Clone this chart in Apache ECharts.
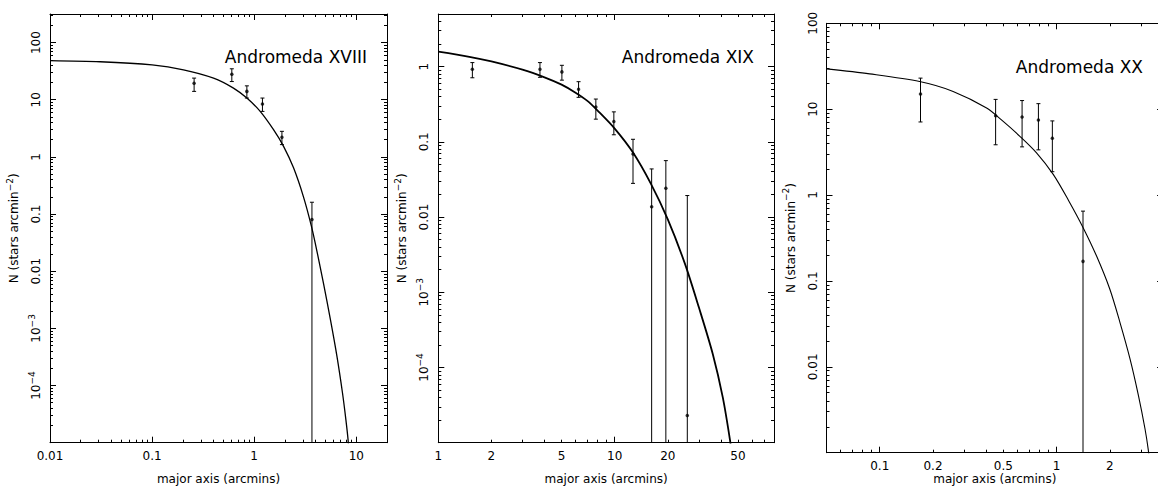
<!DOCTYPE html>
<html><head><meta charset="utf-8">
<script src="https://cdn.jsdelivr.net/npm/echarts@6/dist/echarts.min.js"></script>
<style>html,body{margin:0;padding:0;background:#fff}#c{width:1158px;height:497px}</style>
</head><body><div id="c"></div>
<script>
// ---------- Andromeda XVIII ----------
const a18_curveX = [0.01, 0.031, 0.1, 0.203, 0.40, 0.627, 0.848, 1.145, 1.547, 1.94, 2.43, 3.04, 3.64, 4.15, 4.78, 5.56, 6.47, 7.33, 7.91, 8.31, 8.45];
const a18_curveY = [48.4, 46.2, 40.6, 33.4, 23.9, 16.0, 10.7, 6.25, 2.99, 1.53, 0.643, 0.200, 0.0607, 0.0210, 6.04e-3, 1.48e-3, 3.24e-4, 7.4e-5, 2.54e-5, 1.13e-5, 7e-6];
const a18_pointX = [0.258, 0.604, 0.848, 1.205, 1.87, 3.68];
const a18_pointY = [19.5, 28.0, 14.0, 8.4, 2.2, 0.080];
const a18_errLo  = [14.0, 20.8, 10.7, 6.25, 1.64, 0];
const a18_errHi  = [23.9, 34.8, 17.5, 10.7, 2.8, 0.161];
const a18_xTicks = [0.01, 0.1, 1, 10];
const a18_xTickLabels = ['0.01', '0.1', '1', '10'];
const a18_yTicks = [1e-4, 1e-3, 0.01, 0.1, 1, 10, 100];
const a18_yTickLabels = ['10^-4', '10^-3', '0.01', '0.1', '1', '10', '100'];

// ---------- Andromeda XIX ----------
const a19_curveX = [1, 1.5, 2, 3, 4, 5, 6, 7, 8, 10, 12.7, 16, 20, 25, 30, 36, 41, 45, 46.5];
const a19_curveY = [1.58, 1.35, 1.17, 0.91, 0.72, 0.575, 0.45, 0.35, 0.26, 0.15, 0.072, 0.028, 0.0093, 2.4e-3, 6.3e-4, 1.5e-4, 4e-5, 1.1e-5, 6e-6];
const a19_pointX = [1.56, 3.77, 5.02, 6.24, 7.82, 9.89, 12.7, 16.2, 19.5, 25.8];
const a19_pointY = [0.92, 0.92, 0.85, 0.50, 0.29, 0.186, 0.069, 0.0137, 0.0242, 2.3e-5];
const a19_errLo  = [0.71, 0.72, 0.66, 0.39, 0.20, 0.124, 0.028, 0, 0, 0];
const a19_errHi  = [1.13, 1.13, 1.04, 0.63, 0.37, 0.25, 0.108, 0.0436, 0.0562, 0.0193];
const a19_xTicks = [1, 2, 5, 10, 20, 50];
const a19_xTickLabels = ['1', '2', '5', '10', '20', '50'];
const a19_yTicks = [1e-4, 1e-3, 0.01, 0.1, 1];
const a19_yTickLabels = ['10^-4', '10^-3', '0.01', '0.1', '1'];

// ---------- Andromeda XX ----------
const a20_curveX = [0.05, 0.0877, 0.168, 0.26, 0.402, 0.499, 0.62, 0.77, 0.957, 1.17, 1.41, 1.68, 2.0, 2.28, 2.6, 2.9, 3.16, 3.3, 3.36];
const a20_curveY = [29.5, 25.8, 21.0, 16.1, 10.3, 7.2, 4.83, 3.1, 1.74, 0.86, 0.42, 0.196, 0.08, 0.033, 0.0124, 4.66e-3, 1.9e-3, 1.07e-3, 7.5e-4];
const a20_pointX = [0.17, 0.452, 0.638, 0.789, 0.946, 1.41];
const a20_pointY = [15.0, 8.4, 8.1, 7.5, 4.6, 0.169];
const a20_errLo  = [7.1, 3.85, 3.64, 3.36, 1.87, 0];
const a20_errHi  = [23.0, 13.0, 12.6, 11.6, 7.3, 0.65];
const a20_xTicks = [0.1, 0.2, 0.5, 1, 2];
const a20_xTickLabels = ['0.1', '0.2', '0.5', '1', '2'];
const a20_yTicks = [0.01, 0.1, 1, 10, 100];
const a20_yTickLabels = ['0.01', '0.1', '1', '10', '100'];

const FONT = 'DejaVu Sans';
const X_NAME = 'major axis (arcmins)';
const Y_NAME = '{b|N (stars arcmin}{s|−2}{b|)}';

const panels = [
  { title: 'Andromeda XVIII', grid: {left: 50, top: 14, width: 337, height: 428.7},
    titlePos: {right: 791, top: 48}, xMin: 0.01, xMax: 20, yMin: 1e-5, yMax: 316.2,
    xTicks: a18_xTicks, xLabels: a18_xTickLabels, yTicks: a18_yTicks, yLabels: a18_yTickLabels,
    curveX: a18_curveX, curveY: a18_curveY, px: a18_pointX, py: a18_pointY, lo: a18_errLo, hi: a18_errHi,
    lw: 1.3, xNameGap: 30 },
  { title: 'Andromeda XIX', grid: {left: 438.3, top: 14, width: 335.7, height: 428.7},
    titlePos: {right: 404, top: 48}, xMin: 1, xMax: 80, yMin: 1e-5, yMax: 5,
    xTicks: a19_xTicks, xLabels: a19_xTickLabels, yTicks: a19_yTicks, yLabels: a19_yTickLabels,
    curveX: a19_curveX, curveY: a19_curveY, px: a19_pointX, py: a19_pointY, lo: a19_errLo, hi: a19_errHi,
    lw: 1.8, xNameGap: 30 },
  { title: 'Andromeda XX', grid: {left: 826.5, top: 23.3, width: 336.6, height: 429.4},
    titlePos: {right: 15, top: 58}, xMin: 0.05, xMax: 4, yMin: 1e-3, yMax: 100,
    xTicks: a20_xTicks, xLabels: a20_xTickLabels, yTicks: a20_yTicks, yLabels: a20_yTickLabels,
    curveX: a20_curveX, curveY: a20_curveY, px: a20_pointX, py: a20_pointY, lo: a20_errLo, hi: a20_errHi,
    lw: 1.1, xNameGap: 20 }
];

function clean(v) { return parseFloat(v.toPrecision(8)); }
function majorTicks(lo, hi) {
  const out = [];
  for (let d = Math.floor(Math.log10(lo)) - 1; d <= Math.ceil(Math.log10(hi)) + 1; d++) {
    const v = clean(Math.pow(10, d));
    if (v >= lo * 0.999999 && v <= hi * 1.000001) out.push(v);
  }
  return out;
}
function minorTicks(lo, hi) {
  const out = [];
  for (let d = Math.floor(Math.log10(lo)) - 1; d <= Math.ceil(Math.log10(hi)) + 1; d++) {
    for (let k = 2; k <= 9; k++) {
      const v = clean(k * Math.pow(10, d));
      if (v > lo && v < hi) out.push(v);
    }
  }
  return out;
}
function richText(t) {
  const parts = t.split('^');
  return parts.length > 1 ? '{b|' + parts[0] + '}{s|' + parts[1].replace('-', '−') + '}' : '{b|' + t + '}';
}
function labelFormatter(ticks, texts) {
  return function (v) {
    for (let i = 0; i < ticks.length; i++) {
      if (Math.abs(Math.log10(v) - Math.log10(ticks[i])) < 1e-6) return richText(texts[i]);
    }
    return '';
  };
}

const black = '#000';
const grids = [], xAxes = [], yAxes = [], series = [], titles = [];

panels.forEach((p, i) => {
  const gA = 2 * i, gB = 2 * i + 1;
  grids.push(Object.assign({outerBoundsMode: 'none', containLabel: false}, p.grid));
  grids.push(Object.assign({outerBoundsMode: 'none', containLabel: false}, p.grid));
  titles.push({ text: p.title, right: p.titlePos.right, top: p.titlePos.top, padding: 0,
    textStyle: {fontFamily: FONT, fontSize: 17, fontWeight: 'normal', color: black} });

  const xMaj = majorTicks(p.xMin, p.xMax), xMin = minorTicks(p.xMin, p.xMax);
  const yMaj = majorTicks(p.yMin, p.yMax), yMin = minorTicks(p.yMin, p.yMax);

  const baseX = { type: 'log', min: p.xMin, max: p.xMax, splitLine: {show: false}, nameMoveOverlap: false };
  const baseY = { type: 'log', min: p.yMin, max: p.yMax, splitLine: {show: false}, nameMoveOverlap: false };

  // grid A: axis lines, major ticks, labels
  xAxes.push(Object.assign({}, baseX, {
    gridIndex: gA, position: 'bottom',
    axisLine: {show: true, lineStyle: {color: black, width: 1}},
    axisTick: {show: true, inside: true, length: 6, customValues: xMaj, lineStyle: {color: black, width: 1}},
    axisLabel: {show: true, customValues: p.xTicks, formatter: labelFormatter(p.xTicks, p.xLabels), margin: 6,
      color: black, fontFamily: FONT, rich: {b: {fontFamily: FONT, fontSize: 12, lineHeight: 14, color: black}}},
    name: X_NAME, nameLocation: 'middle', nameGap: p.xNameGap,
    nameTextStyle: {fontFamily: FONT, fontSize: 12, color: black}
  }));
  xAxes.push(Object.assign({}, baseX, {
    gridIndex: gA, position: 'top',
    axisLine: {show: true, lineStyle: {color: black, width: 1}},
    axisTick: {show: true, inside: true, length: 6, customValues: xMaj, lineStyle: {color: black, width: 1}},
    axisLabel: {show: false}
  }));
  // grid B: minor ticks
  xAxes.push(Object.assign({}, baseX, {
    gridIndex: gB, position: 'bottom', axisLine: {show: false},
    axisTick: {show: true, inside: true, length: 3, customValues: xMin, lineStyle: {color: black, width: 1}},
    axisLabel: {show: false}
  }));
  xAxes.push(Object.assign({}, baseX, {
    gridIndex: gB, position: 'top', axisLine: {show: false},
    axisTick: {show: true, inside: true, length: 3, customValues: xMin, lineStyle: {color: black, width: 1}},
    axisLabel: {show: false}
  }));

  yAxes.push(Object.assign({}, baseY, {
    gridIndex: gA, position: 'left',
    axisLine: {show: true, lineStyle: {color: black, width: 1}},
    axisTick: {show: true, inside: true, length: 6, customValues: yMaj, lineStyle: {color: black, width: 1}},
    axisLabel: {show: true, customValues: p.yTicks, formatter: labelFormatter(p.yTicks, p.yLabels), rotate: 90, margin: 5,
      color: black, fontFamily: FONT,
      rich: {b: {fontFamily: FONT, fontSize: 12, lineHeight: 18, color: black},
             s: {fontFamily: FONT, fontSize: 9, lineHeight: 9, verticalAlign: 'top', color: black}}},
    name: Y_NAME, nameLocation: 'middle', nameGap: 27,
    nameTextStyle: {fontFamily: FONT, color: black,
      rich: {b: {fontFamily: FONT, fontSize: 12, lineHeight: 18, color: black},
             s: {fontFamily: FONT, fontSize: 9, lineHeight: 9, verticalAlign: 'top', color: black}}}
  }));
  yAxes.push(Object.assign({}, baseY, {
    gridIndex: gA, position: 'right',
    axisLine: {show: true, lineStyle: {color: black, width: 1}},
    axisTick: {show: true, inside: true, length: 6, customValues: yMaj, lineStyle: {color: black, width: 1}},
    axisLabel: {show: false}
  }));
  yAxes.push(Object.assign({}, baseY, {
    gridIndex: gB, position: 'left', axisLine: {show: false},
    axisTick: {show: true, inside: true, length: 3, customValues: yMin, lineStyle: {color: black, width: 1}},
    axisLabel: {show: false}
  }));
  yAxes.push(Object.assign({}, baseY, {
    gridIndex: gB, position: 'right', axisLine: {show: false},
    axisTick: {show: true, inside: true, length: 3, customValues: yMin, lineStyle: {color: black, width: 1}},
    axisLabel: {show: false}
  }));

  const xi = 4 * i, yi = 4 * i;
  series.push({
    type: 'line', xAxisIndex: xi, yAxisIndex: yi, showSymbol: false, smooth: 0.3, clip: true,
    data: p.curveX.map((x, k) => [x, p.curveY[k]]),
    lineStyle: {color: black, width: p.lw}, silent: true, z: 3
  });
  series.push({
    type: 'custom', xAxisIndex: xi, yAxisIndex: yi, silent: true, z: 2,
    encode: {x: 0, y: 1},
    data: p.px.map((x, k) => [x, p.py[k], p.lo[k], p.hi[k]]),
    renderItem: function (params, api) {
      const x = api.value(0), lo = api.value(2), hi = api.value(3);
      const cs = params.coordSys;
      const top = api.coord([x, hi]);
      const bottomY = lo > 0 ? api.coord([x, lo])[1] : cs.y + cs.height;
      const cx = top[0], cap = 2;
      const st = {stroke: black, lineWidth: 1};
      const children = [
        {type: 'line', shape: {x1: cx, y1: top[1], x2: cx, y2: bottomY}, style: st},
        {type: 'line', shape: {x1: cx - cap, y1: top[1], x2: cx + cap, y2: top[1]}, style: st}
      ];
      if (lo > 0) children.push({type: 'line', shape: {x1: cx - cap, y1: bottomY, x2: cx + cap, y2: bottomY}, style: st});
      return {type: 'group', children: children};
    }
  });
  series.push({
    type: 'scatter', xAxisIndex: xi, yAxisIndex: yi, symbol: 'circle', symbolSize: 3.5,
    itemStyle: {color: black}, silent: true, z: 4,
    data: p.px.map((x, k) => [x, p.py[k]])
  });
});

const chart = echarts.init(document.getElementById('c'), null, {renderer: 'svg', width: 1158, height: 497});
chart.setOption({
  backgroundColor: '#fff',
  animation: false,
  title: titles,
  grid: grids,
  xAxis: xAxes,
  yAxis: yAxes,
  series: series
});
</script>
</body></html>
